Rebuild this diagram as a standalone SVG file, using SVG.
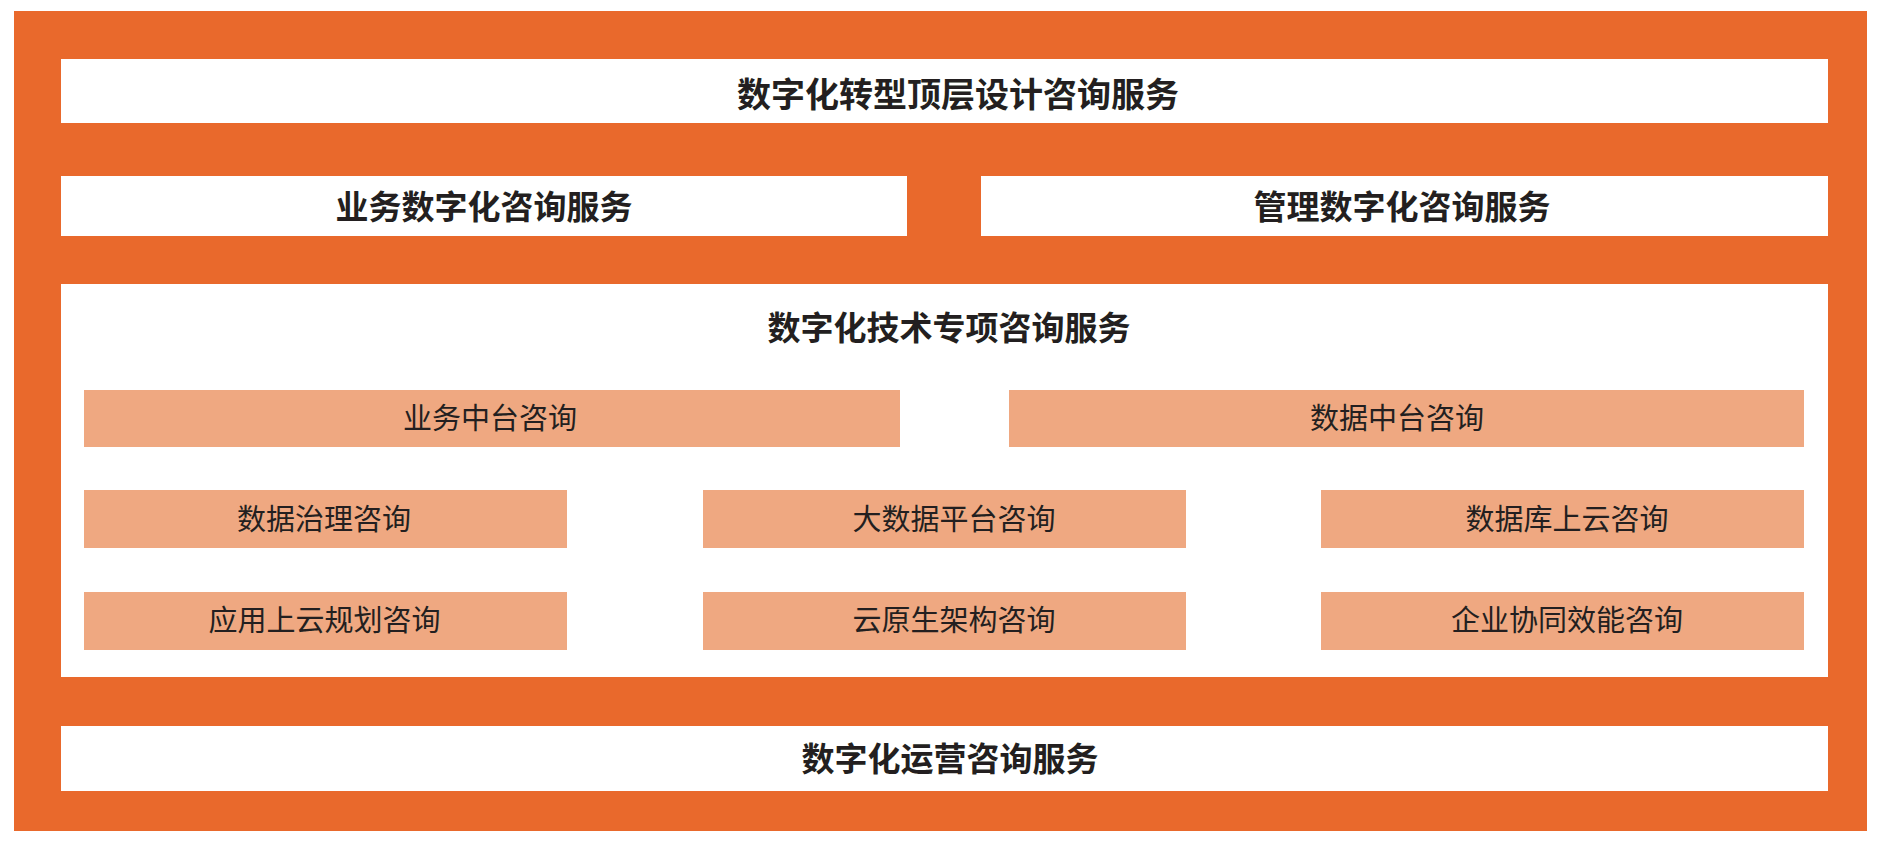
<svg xmlns="http://www.w3.org/2000/svg" width="1881" height="845" viewBox="0 0 1881 845">
<style>
.org{fill:#E9692C}
.wht{fill:#FFFFFF}
.sal{fill:#EFA881}
text{font-family:"Noto Sans CJK SC","Noto Sans",sans-serif;fill:#231F20;text-anchor:middle;dominant-baseline:central}
.h1{font-size:34px;font-weight:700}
.h2{font-size:33px;font-weight:700}
.t{font-size:29px;font-weight:400}
</style>
<rect width="1881" height="845" fill="#FFFFFF"/>
<rect class="org" x="14" y="11" width="1853" height="820"/>
<g id="top">
<rect class="wht" x="61" y="59" width="1767" height="64"/>
<text class="h1" x="958" y="92">数字化转型顶层设计咨询服务</text>
</g>
<g id="biz">
<rect class="wht" x="61" y="176" width="846" height="60"/>
<text class="h2" x="484" y="205">业务数字化咨询服务</text>
</g>
<g id="mgmt">
<rect class="wht" x="981" y="176" width="847" height="60"/>
<text class="h2" x="1402" y="205">管理数字化咨询服务</text>
</g>
<g id="tech">
<rect class="wht" x="61" y="284" width="1767" height="393"/>
<text class="h2" x="949" y="326">数字化技术专项咨询服务</text>
</g>
<g id="n1"><rect class="sal" x="84" y="390" width="816" height="57"/><text class="t" x="490" y="416">业务中台咨询</text></g>
<g id="n2"><rect class="sal" x="1009" y="390" width="795" height="57"/><text class="t" x="1397" y="416">数据中台咨询</text></g>
<g id="n3"><rect class="sal" x="84" y="490" width="483" height="58"/><text class="t" x="324" y="517">数据治理咨询</text></g>
<g id="n4"><rect class="sal" x="703" y="490" width="483" height="58"/><text class="t" x="954" y="517">大数据平台咨询</text></g>
<g id="n5"><rect class="sal" x="1321" y="490" width="483" height="58"/><text class="t" x="1567" y="517">数据库上云咨询</text></g>
<g id="n6"><rect class="sal" x="84" y="592" width="483" height="58"/><text class="t" x="324.5" y="618">应用上云规划咨询</text></g>
<g id="n7"><rect class="sal" x="703" y="592" width="483" height="58"/><text class="t" x="954" y="618">云原生架构咨询</text></g>
<g id="n8"><rect class="sal" x="1321" y="592" width="483" height="58"/><text class="t" x="1567" y="618">企业协同效能咨询</text></g>
<g id="ops">
<rect class="wht" x="61" y="726" width="1767" height="65"/>
<text class="h2" x="950" y="757">数字化运营咨询服务</text>
</g>
<g id="connectors"></g>
</svg>
